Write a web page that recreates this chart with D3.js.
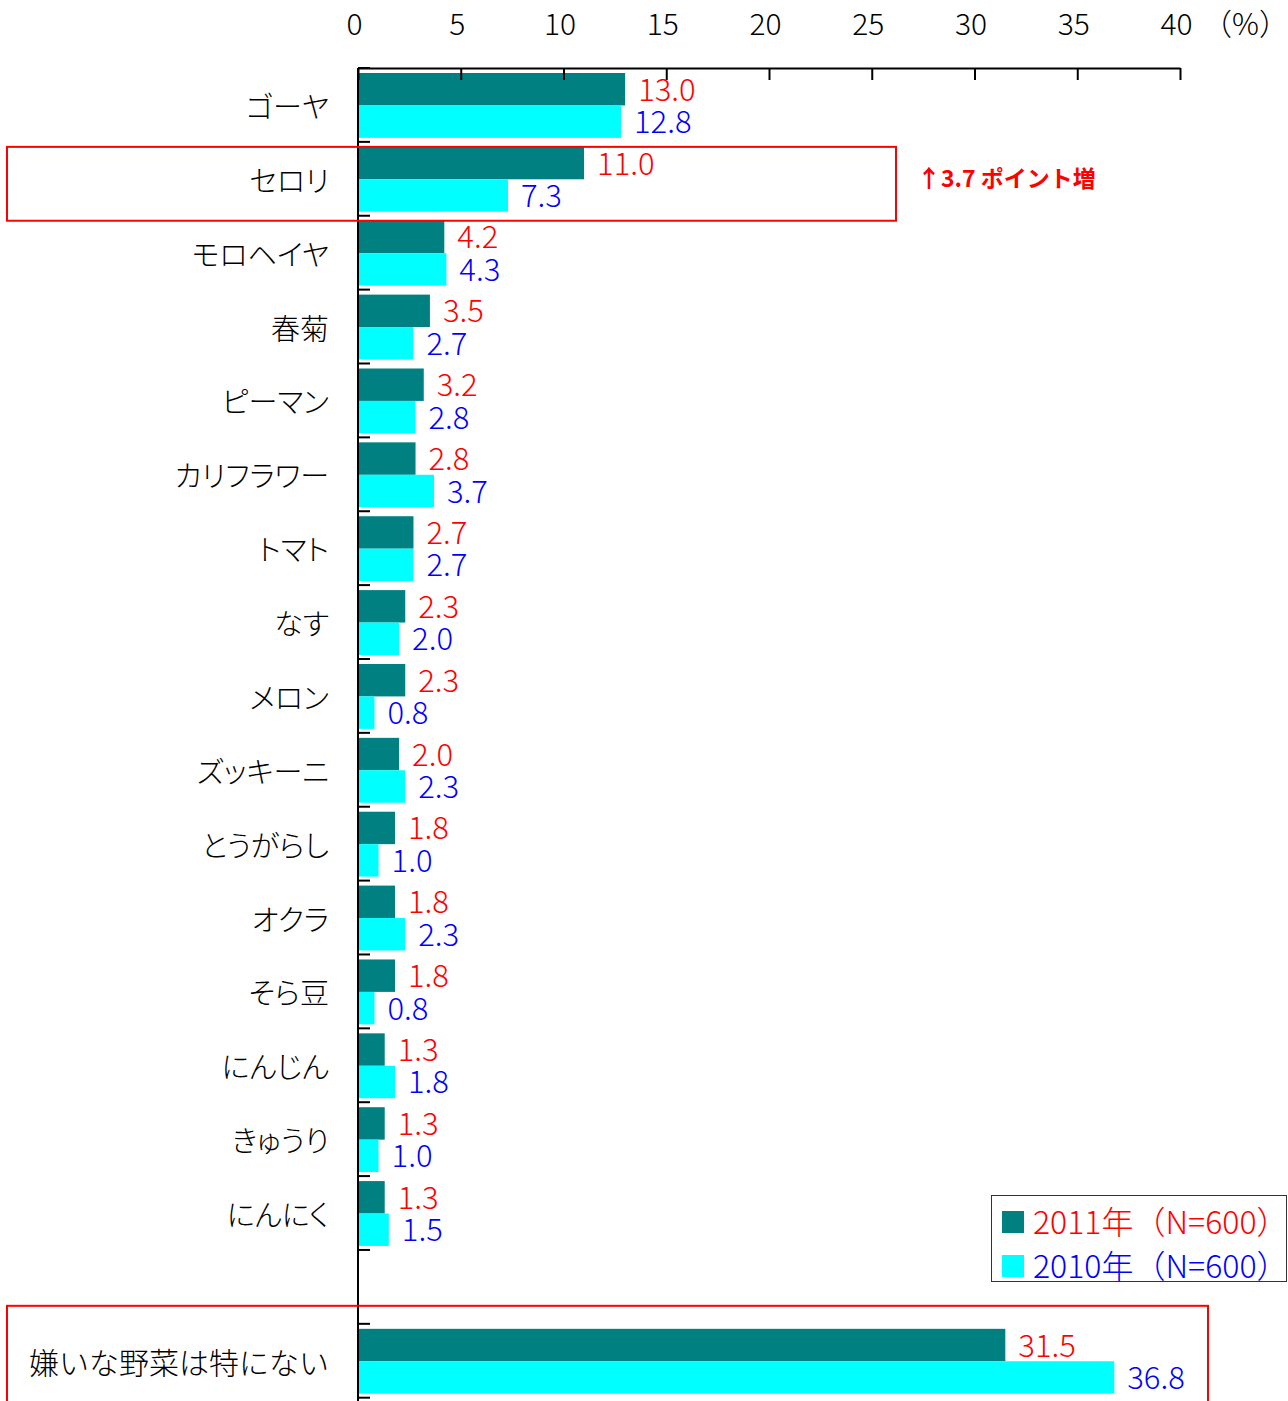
<!DOCTYPE html>
<html><head><meta charset="utf-8">
<script src="https://cdn.jsdelivr.net/npm/d3@7"></script>
<style>
html,body{margin:0;padding:0;background:#fff;}
svg{display:block;font-family:"Noto Sans CJK JP","Noto Sans",sans-serif;font-weight:300;}
</style></head>
<body>
<svg id="chart" width="1288" height="1401"></svg>
<script>
const categories = ["ゴーヤ","セロリ","モロヘイヤ","春菊","ピーマン","カリフラワー","トマト","なす","メロン","ズッキーニ","とうがらし","オクラ","そら豆","にんじん","きゅうり","にんにく","嫌いな野菜は特にない"];
const values2011 = [13.0,11.0,4.2,3.5,3.2,2.8,2.7,2.3,2.3,2.0,1.8,1.8,1.8,1.3,1.3,1.3,31.5];
const values2010 = [12.8,7.3,4.3,2.7,2.8,3.7,2.7,2.0,0.8,2.3,1.0,2.3,0.8,1.8,1.0,1.5,36.8];
const seriesNames = ["2011年（N=600）","2010年（N=600）"];
const tickValues = [0,5,10,15,20,25,30,35,40];
const unitLabel = "（%）";
const annotationText = "3.7 ポイント増";

const colors = ["#008080","#00FFFF"];
const labelColors = ["#FF0000","#0000FF"];

const svg = d3.select("#chart");
const mLeft = 358, mRight = 1180, mTop = 68, mBottom = 1397.7;

// slots: 16 categories, a spacer, then the last category
const slots = categories.slice(0,16).concat(["__spacer__"], categories.slice(16));
const x = d3.scaleLinear().domain([0,40]).range([mLeft,mRight]);
const y = d3.scaleBand().domain(slots).range([mTop,mBottom]).padding(0);
const inner = d3.scaleBand().domain([0,1]).range([5, y.bandwidth()-4]).padding(0);

const rows = categories.map((c,i)=>({cat:c, v:[values2011[i], values2010[i]]}));

// bars
const g = svg.append("g");
rows.forEach(r=>{
  r.v.forEach((v,k)=>{
    g.append("rect")
      .attr("x", x(0)+1)
      .attr("y", y(r.cat)+inner(k))
      .attr("width", x(v)-x(0)-1)
      .attr("height", inner.bandwidth())
      .attr("fill", colors[k]);
    g.append("text")
      .attr("x", x(v)+13)
      .attr("y", y(r.cat)+inner(k)+inner.bandwidth()/2-2)
      .attr("dominant-baseline","central")
      .attr("font-size",31)
      .attr("fill", labelColors[k])
      .text(d3.format(".1f")(v));
  });
  g.append("text")
    .attr("x", 329)
    .attr("y", y(r.cat)+y.bandwidth()/2)
    .attr("text-anchor","end")
    .attr("dominant-baseline","central")
    .attr("font-size", r.cat===categories[categories.length-1] ? 30 : 29)
    .attr("fill","#000")
    .style("font-feature-settings", r.cat===categories[categories.length-1] ? "normal" : "'palt' 1")
    .text(r.cat);
});

// top axis
const axis = d3.axisTop(x).tickValues(tickValues).tickSizeInner(-12).tickSizeOuter(0).tickPadding(33);
const ax = svg.append("g").attr("transform",`translate(0,${mTop})`).call(axis);
ax.select(".domain").attr("stroke","#000").attr("stroke-width",2);
ax.selectAll(".tick line").attr("stroke","#000").attr("stroke-width",2);
ax.selectAll(".tick text").attr("font-size",30).attr("font-family","\"Noto Sans CJK JP\",sans-serif").attr("font-weight",300).attr("fill","#000").attr("dx",-4);
svg.append("text").attr("x",1202).attr("y",mTop-33).attr("font-size",30).attr("fill","#000").text(unitLabel);

// left axis
svg.append("line").attr("x1",mLeft).attr("x2",mLeft).attr("y1",mTop).attr("y2",1401).attr("stroke","#000").attr("stroke-width",2);
const bounds = slots.map(s=>y(s)).concat([mBottom]);
svg.selectAll(".ltick").data(bounds).join("line")
  .attr("x1",mLeft).attr("x2",mLeft+12)
  .attr("y1",d=>d).attr("y2",d=>d)
  .attr("stroke","#000").attr("stroke-width",2);

// highlight boxes
svg.append("rect").attr("x",7).attr("y",y(categories[1])+5).attr("width",889).attr("height",y.bandwidth())
  .attr("fill","none").attr("stroke","#FF0000").attr("stroke-width",2);
svg.append("rect").attr("x",7).attr("y",y(categories[16])-18).attr("width",1201).attr("height",140)
  .attr("fill","none").attr("stroke","#FF0000").attr("stroke-width",2);

// annotation
svg.append("text").attr("x",917).attr("y",y(categories[1])+y.bandwidth()/2-2)
  .attr("dominant-baseline","central").attr("font-size",24).attr("font-weight","bold").attr("fill","#FF0000")
  .text("↑");
svg.append("text").attr("x",941).attr("y",y(categories[1])+y.bandwidth()/2-2)
  .attr("dominant-baseline","central").attr("font-size",23).attr("font-weight","bold").attr("fill","#FF0000")
  .text(annotationText);

// legend
const lg = svg.append("g");
lg.append("rect").attr("x",991.5).attr("y",1195.5).attr("width",295).attr("height",86)
  .attr("fill","#fff").attr("stroke","#333").attr("stroke-width",1);
seriesNames.forEach((n,k)=>{
  lg.append("rect").attr("x",1002).attr("y",1211+k*44).attr("width",22).attr("height",22).attr("fill",colors[k]);
  lg.append("text").attr("x",1033).attr("y",1220+k*44).attr("dominant-baseline","central")
    .attr("font-size",32).attr("fill",labelColors[k]).text(n);
});
</script>
</body></html>
